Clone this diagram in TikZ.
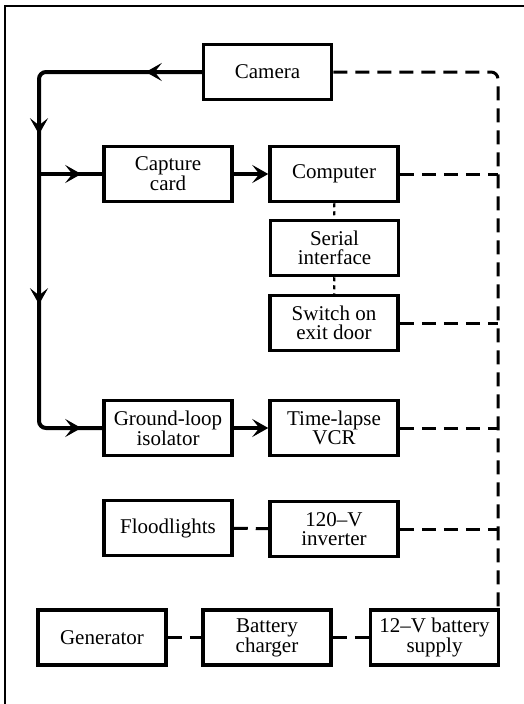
\documentclass[tikz,border=0pt]{standalone}
\usepackage{fontspec}
\setmainfont{Liberation Serif}
\usetikzlibrary{arrows.meta,decorations.markings}
\begin{document}
\begin{tikzpicture}[x=1pt,y=-1pt,
  >={Stealth[length=16pt,width=18pt,inset=7pt]},
  box/.style={draw, line width=3.5pt, minimum width=128pt, minimum height=55pt,
    inner sep=0pt, align=center, font=\fontsize{21}{19}\selectfont},
  frame/.style={line width=1.6pt},
  main/.style={line width=4pt},
  pwr/.style={line width=3pt, dash pattern=on 14pt off 8pt},
  ser/.style={line width=2.2pt, dash pattern=on 4pt off 4pt},
  midarr/.style={postaction={decorate}, decoration={markings, mark=at position #1 with {\arrow{>}}}}
]
\useasboundingbox (0,0) rectangle (524,704);
\draw[frame] (5,704) -- (5,6) -- (524,6);

\node[box] (camera) at (267.5,72) {Camera};
\node[box] (capture) at (168,174) {Capture\\card};
\node[box] (computer) at (334,174) {Computer};
\node[box] (serial) at (334.5,248) {Serial\\interface};
\node[box] (switch) at (334,323) {Switch on\\exit door};
\node[box] (ground) at (168,428) {Ground-loop\\isolator};
\node[box] (vcr) at (334,428) {Time-lapse\\VCR};
\node[box] (flood) at (168,528) {Floodlights};
\node[box] (inv) at (334,529) {120–V\\inverter};
\node[box] (gen) at (102,637.5) {Generator};
\node[box] (charger) at (267,637.5) {Battery\\charger};
\node[box] (bat) at (434.5,637.5) {12–V battery\\supply};

\coordinate (tl) at (39,72);
\coordinate (bl) at (39,428);
\coordinate (j1) at (39,174);
\coordinate (tr) at (498,72);

% video signal path
\draw[main, rounded corners=7pt, postaction={decorate},
  decoration={markings,
    mark=at position 56pt with {\arrow{>}},
    mark=at position 222pt with {\arrow{>}},
    mark=at position 392pt with {\arrow{>}},
    mark=at position -21pt with {\arrow{>}}}]
  (camera.west) -- (tl) -- (bl) -- (ground.west);
\draw[main, midarr=-21pt] (j1) -- (capture.west);
\draw[main, ->] (capture) -- (computer);
\draw[main, ->] (ground) -- (vcr);

% serial link
\draw[ser] (computer) -- (serial);
\draw[ser] (serial) -- (switch);

% power
\draw[pwr, rounded corners=7pt] (camera.east) -- (tr) -- (bat.north -| tr);
\draw[pwr] (computer.east) -- (computer.east -| tr);
\draw[pwr] (switch.east) -- (switch.east -| tr);
\draw[pwr] (vcr.east) -- (vcr.east -| tr);
\draw[pwr] (inv.east) -- (inv.east -| tr);
\draw[pwr] (flood) -- (inv);
\draw[pwr] (gen) -- (charger);
\draw[pwr] (charger) -- (bat);
\end{tikzpicture}
\end{document}
